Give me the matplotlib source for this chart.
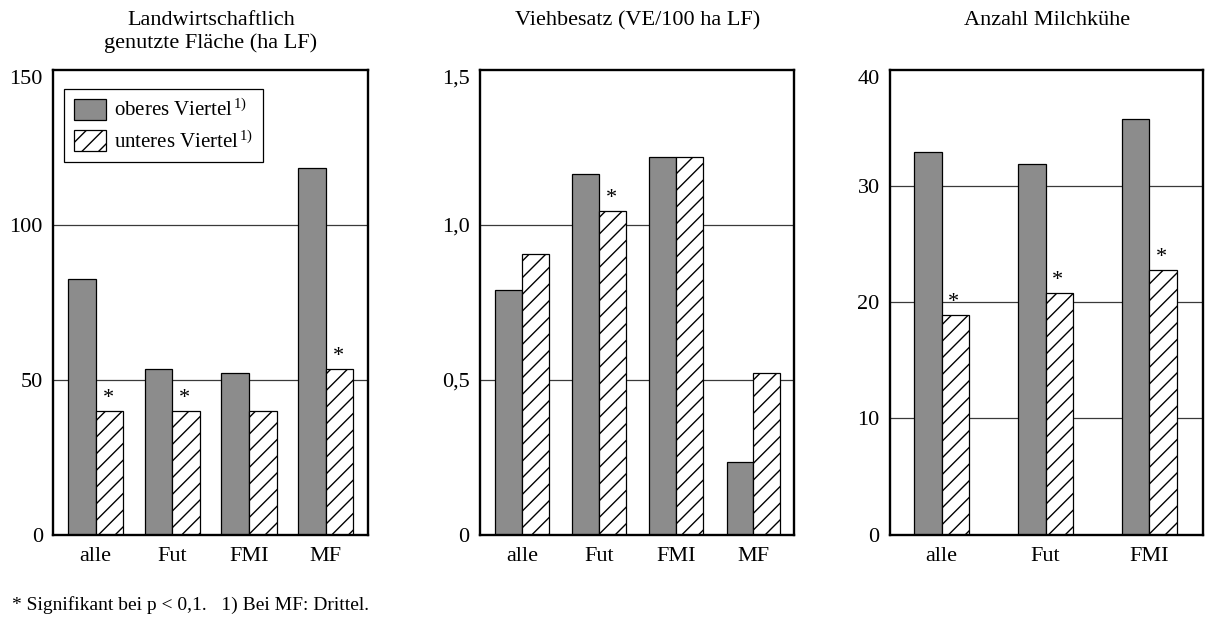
import matplotlib
matplotlib.use("Agg")
import matplotlib.pyplot as plt
from matplotlib.patches import Patch
import numpy as np

plt.rcParams['font.family'] = ['Liberation Serif', 'DejaVu Serif']
plt.rcParams['mathtext.fontset'] = 'custom'
plt.rcParams['mathtext.rm'] = 'Liberation Serif'
plt.rcParams['mathtext.it'] = 'Liberation Serif:italic'
plt.rcParams['mathtext.default'] = 'rm'
plt.rcParams['hatch.color'] = 'black'
plt.rcParams['hatch.linewidth'] = 1.0

# ---------------- data ----------------
categories_lf = ['alle', 'Fut', 'FMI', 'MF']
lf_upper = [82.5, 53.5, 52, 118.5]
lf_lower = [40, 40, 40, 53.5]
lf_sig = [True, True, False, True]
lf_ticks = [0, 50, 100, 150]
lf_ticklabels = ['0', '50', '100', '150']

categories_vb = ['alle', 'Fut', 'FMI', 'MF']
vb_upper = [0.79, 1.165, 1.22, 0.235]
vb_lower = [0.905, 1.045, 1.22, 0.52]
vb_sig = [False, True, False, False]
vb_ticks = [0, 0.5, 1.0, 1.5]
vb_ticklabels = ['0', '0,5', '1,0', '1,5']

categories_mk = ['alle', 'Fut', 'FMI']
mk_upper = [32.9, 31.9, 35.8]
mk_lower = [18.9, 20.8, 22.8]
mk_sig = [True, True, True]
mk_ticks = [0, 10, 20, 30, 40]
mk_ticklabels = ['0', '10', '20', '30', '40']

titles = ['Landwirtschaftlich\ngenutzte Fläche (ha LF)',
          'Viehbesatz (VE/100 ha LF)',
          'Anzahl Milchkühe']
legend_labels = [r'oberes Viertel$^{\,1)}$', r'unteres Viertel$^{\,1)}$']
footnote = '* Signifikant bei p < 0,1.   1) Bei MF: Drittel.'

# ---------------- style ----------------
GREY = '#8c8c8c'
W, H = 1208, 622
FS = 16

fig = plt.figure(figsize=(W / 100, H / 100), dpi=100)

panels = [
    dict(cats=categories_lf, up=lf_upper, lo=lf_lower, sig=lf_sig, ticks=lf_ticks,
         tl=lf_ticklabels, left=53.3, right=368.3, w=0.36, xlim=(-0.553, 3.555)),
    dict(cats=categories_vb, up=vb_upper, lo=vb_lower, sig=vb_sig, ticks=vb_ticks,
         tl=vb_ticklabels, left=480, right=794.3, w=0.35, xlim=(-0.55, 3.53)),
    dict(cats=categories_mk, up=mk_upper, lo=mk_lower, sig=mk_sig, ticks=mk_ticks,
         tl=mk_ticklabels, left=890, right=1203.3, w=0.263, xlim=(-0.498, 2.52)),
]
top_px, bot_px = 70, 534.5

axes = []
for i, p in enumerate(panels):
    ax = fig.add_axes([p['left'] / W, 1 - bot_px / H,
                       (p['right'] - p['left']) / W, (bot_px - top_px) / H])
    axes.append(ax)
    x = np.arange(len(p['cats']))
    w = p['w']
    ax.set_axisbelow(True)
    for t in p['ticks'][1:-1]:
        ax.axhline(t, color='#3a3a3a', lw=0.9, zorder=0)
    ax.bar(x - w / 2, p['up'], width=w, color=GREY, edgecolor='black', lw=0.9, zorder=2)
    ax.bar(x + w / 2, p['lo'], width=w, color='white', edgecolor='black', lw=0.9,
           hatch='//', zorder=2)
    for xi, v, s in zip(x, p['lo'], p['sig']):
        if s:
            ax.annotate('*', xy=(xi + w / 2, v), xytext=(-1, 2), textcoords='offset points',
                        ha='center', va='bottom', fontsize=FS)
    ax.set_xlim(*p['xlim'])
    ax.set_ylim(p['ticks'][0], p['ticks'][-1])
    ax.set_yticks(p['ticks'])
    ax.set_yticklabels(p['tl'], fontsize=FS)
    ax.get_yticklabels()[-1].set_verticalalignment('top')
    ax.set_xticks(x)
    ax.set_xticklabels(p['cats'], fontsize=FS)
    ax.tick_params(axis='both', length=0)
    ax.tick_params(axis='y', pad=7.5)
    ax.tick_params(axis='x', pad=9)
    for sp in ax.spines.values():
        sp.set_linewidth(1.7)
        sp.set_color('black')
    fig.text((p['left'] + p['right']) / 2 / W, 1 - 11 / H, titles[i], ha='center', va='top',
             fontsize=FS, linespacing=1.2)

handles = [Patch(facecolor=GREY, edgecolor='black', lw=0.9),
           Patch(facecolor='white', edgecolor='black', lw=0.9, hatch='//')]
leg = axes[0].legend(handles, legend_labels, loc='upper left',
                     bbox_to_anchor=(11 / 315, 1 - 19.3 / 464.5), borderaxespad=0,
                     fontsize=15, handlelength=1.55, handleheight=1.2,
                     labelspacing=0.42, borderpad=0.45, handletextpad=0.4,
                     fancybox=False, framealpha=1, edgecolor='black')
leg.get_frame().set_linewidth(0.9)

fig.text(11.7 / W, 1 - 610 / H, footnote, ha='left', va='baseline', fontsize=14)

fig.savefig('out.png', dpi=100)
